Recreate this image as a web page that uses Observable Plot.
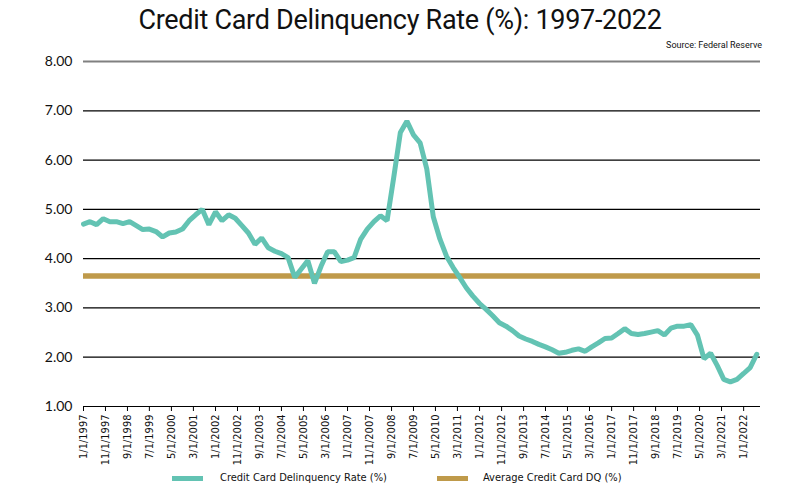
<!DOCTYPE html>
<html>
<head>
<meta charset="utf-8">
<script src="https://cdn.jsdelivr.net/npm/d3@7"></script>
<script src="https://cdn.jsdelivr.net/npm/@observablehq/plot@0.6"></script>
<style>
  html, body { margin: 0; padding: 0; background: #fff; }
  #wrap { position: relative; width: 800px; height: 500px; overflow: hidden; font-family: Lato, "Noto Sans", sans-serif; }
  #title { position: absolute; left: 0; top: 4px; width: 800px; text-align: center; font-size: 27px; color: #111; font-family: Roboto, Lato, sans-serif; font-weight: 400; letter-spacing: -0.3px; }
  #source { position: absolute; right: 38px; top: 40px; font-size: 9px; color: #111; font-family: Roboto, sans-serif; }
  #chart { position: absolute; left: 0; top: 50px; }
  .leg { position: absolute; top: 470px; font-size: 11px; color: #111; font-family: "Liberation Sans Narrow", "DejaVu Sans Condensed", sans-serif; line-height: 16px; }
  .sw { position: absolute; width: 31px; height: 5px; }
</style>
</head>
<body>
<div id="wrap">
  <div id="title">Credit Card Delinquency Rate (%): 1997-2022</div>
  <div id="source">Source: Federal Reserve</div>
  <div id="chart"></div>
  <div class="sw" style="left:172px; top:476px; background:#63C3B3;"></div>
  <div class="leg" style="left:220px;">Credit Card Delinquency Rate (%)</div>
  <div class="sw" style="left:437px; top:476px; background:#BF9A4A;"></div>
  <div class="leg" style="left:483px;">Average Credit Card DQ (%)</div>
</div>
<script>
// Quarterly delinquency rate (%), 1997 Q1 .. 2022 Q3
const rates = [
  4.70, 4.75, 4.69, 4.81, 4.75, 4.75, 4.71, 4.75, 4.67, 4.59,
  4.60, 4.55, 4.44, 4.52, 4.54, 4.60, 4.77, 4.89, 5.00, 4.69,
  4.95, 4.77, 4.89, 4.82, 4.67, 4.52, 4.29, 4.42, 4.22, 4.15,
  4.10, 4.02, 3.62, 3.79, 3.96, 3.50, 3.85, 4.14, 4.14, 3.94,
  3.97, 4.02, 4.39, 4.60, 4.75, 4.87, 4.77, 5.65, 6.56, 6.79,
  6.51, 6.35, 5.82, 4.85, 4.40, 4.05, 3.82, 3.62, 3.41, 3.24,
  3.09, 2.97, 2.84, 2.70, 2.63, 2.54, 2.43, 2.37, 2.32, 2.26,
  2.21, 2.15, 2.08, 2.10, 2.14, 2.17, 2.12, 2.21, 2.29, 2.38,
  2.39, 2.48, 2.58, 2.48, 2.46, 2.48, 2.51, 2.54, 2.45, 2.59,
  2.63, 2.63, 2.66, 2.45, 1.97, 2.08, 1.83, 1.55, 1.50, 1.55,
  1.67, 1.79, 2.06
];
const averageRate = 3.65;
const startDate = "1997-01-01";
const xTickLabels = [
  "1/1/1997","11/1/1997","9/1/1998","7/1/1999","5/1/2000","3/1/2001","1/1/2002","11/1/2002",
  "9/1/2003","7/1/2004","5/1/2005","3/1/2006","1/1/2007","11/1/2007","9/1/2008","7/1/2009",
  "5/1/2010","3/1/2011","1/1/2012","11/1/2012","9/1/2013","7/1/2014","5/1/2015","3/1/2016",
  "1/1/2017","11/1/2017","9/1/2018","7/1/2019","5/1/2020","3/1/2021","1/1/2022"
];
const yTicks = [1, 2, 3, 4, 5, 6, 7, 8];

const parseMDY = d3.utcParse("%-m/%-d/%Y");
const fmtMDY = d => `${d.getUTCMonth() + 1}/${d.getUTCDate()}/${d.getUTCFullYear()}`;
const start = new Date(startDate + "T00:00:00Z");
const data = rates.map((v, i) => ({ date: d3.utcMonth.offset(start, 3 * i), value: v }));
const xTicks = xTickLabels.map(parseMDY);
const xDomain = [start, new Date("2022-08-22T00:00:00Z")];

const teal = "#63C3B3";
const gold = "#BF9A4A";

const chart = Plot.plot({
  width: 800,
  height: 420,
  marginLeft: 83,
  marginRight: 40,
  marginTop: 11,
  marginBottom: 64,
  style: { fontFamily: "Lato, sans-serif", background: "#fff", overflow: "visible" },
  x: { type: "utc", domain: xDomain },
  y: { domain: [1, 8] },
  marks: [
    Plot.ruleY(yTicks.filter(d => d > 1 && d < 8), { stroke: "#000", strokeWidth: 1.2 }),
    Plot.ruleY([8], { stroke: "#808080", strokeWidth: 2 }),
    Plot.ruleY([1], { stroke: "#000", strokeWidth: 1.2 }),
    Plot.axisY({ ticks: yTicks, tickFormat: d => d.toFixed(2), tickSize: 0, tickPadding: 11, fontSize: 14, label: null, fill: "#111" }),
    Plot.axisX({ ticks: xTicks, tickFormat: fmtMDY, tickSize: 5, tickPadding: 3, tickRotate: -90, fontSize: 11, label: null, fill: "#111", stroke: "#000",
      fontFamily: "'Liberation Sans Narrow', 'DejaVu Sans Condensed', sans-serif" }),
    Plot.ruleY([averageRate], { stroke: gold, strokeWidth: 5.5 }),
    Plot.line(data, { x: "date", y: "value", stroke: teal, strokeWidth: 5, strokeLinejoin: "miter" })
  ]
});
document.getElementById("chart").appendChild(chart);
</script>
</body>
</html>
